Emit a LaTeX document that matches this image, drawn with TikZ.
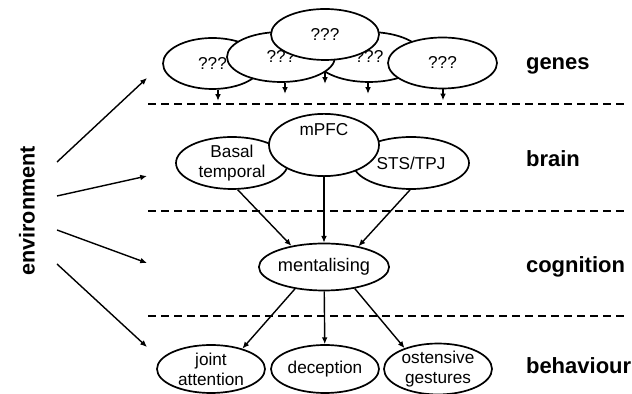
\documentclass[tikz,border=0pt]{standalone}
\usepackage{fontspec}
\setmainfont{Liberation Sans}
\usetikzlibrary{shapes.geometric,arrows.meta,backgrounds}
\begin{document}
\begin{tikzpicture}[x=0.5pt,y=-0.5pt,
  ell/.style={ellipse,draw,fill=white,line width=0.85pt,inner sep=0pt,
    font=\fontsize{8.6}{10}\selectfont,align=center},
  arr/.style={-{Latex[length=3.4pt,width=2.9pt]},line width=0.7pt},
  sep/.style={dash pattern=on 4pt off 2.5pt,line width=0.8pt},
  lev/.style={font=\fontsize{11}{13}\selectfont\bfseries,anchor=base west}]
\useasboundingbox (0,0) rectangle (632,394);

% genes
\node[ell,minimum width=49.5pt,minimum height=25.5pt] (g1) at (212.5,63.5) {???};
\node[ell,minimum width=54pt,minimum height=25pt] (g4) at (369,57) {???};
\node[ell,minimum width=54pt,minimum height=25pt] (g2) at (281,57) {???};
\node[ell,minimum width=54.5pt,minimum height=25.5pt] (g5) at (442.5,63) {???};
\node[ell,minimum width=54pt,minimum height=25.5pt] (g3) at (325,34.5) {???};
\begin{scope}[on background layer]
\draw[arr] ([xshift=2.75pt]g1.south) -- ++(0,11);
\draw[arr] ([xshift=2pt]g2.south) -- ++(0,11);
\draw[arr] (g3.south) -- ++(0,23);
\draw[arr] ([xshift=-0.5pt]g4.south) -- ++(0,11);
\draw[arr] ([xshift=0.25pt]g5.south) -- ++(0,11);
\end{scope}

% separators
\draw[sep] (148,104) -- (628,104);
\draw[sep] (148,211) -- (628,211);
\draw[sep] (148,316) -- (628,316);

% brain
\node[ell,minimum width=56pt,minimum height=26pt] (bt) at (232,163) {Basal\\temporal};
\node[ell,minimum width=58pt,minimum height=26pt] (sts) at (411,163) {STS/TPJ};
\node[ell,minimum width=55pt,minimum height=27pt] (mpfc) at (324,145) {mPFC\\[6pt]};

% cognition
\node[ell,minimum width=53.5pt,minimum height=23.5pt,font=\fontsize{9.1}{11}\selectfont] (ment) at (324,267) {mentalising};

% behaviour
\node[ell,minimum width=54pt,minimum height=24pt] (ja) at (211,369) {joint\\attention};
\node[ell,minimum width=54pt,minimum height=24pt] (dec) at (325,369) {deception};
\node[ell,minimum width=54pt,minimum height=24pt] (os) at (438,369) {ostensive\\gestures};

% brain -> cognition
\draw[arr] (bt.-78) -- (ment.147);
\draw[arr] (mpfc) -- (ment);
\draw[arr] (sts.-92) -- (ment.31);

% cognition -> behaviour
\draw[arr] (ment.-143) -- (ja.33);
\draw[arr] (ment) -- (dec);
\draw[arr] (ment.-35) -- (os.148);

% environment
\node[rotate=90,font=\fontsize{10.8}{13}\selectfont\bfseries] (env) at (27,211) {environment};
\coordinate (e1s) at (57,162); \coordinate (e1t) at (147,78);
\coordinate (e2s) at (57,196); \coordinate (e2t) at (147,176);
\coordinate (e3s) at (57,230); \coordinate (e3t) at (147,263);
\coordinate (e4s) at (57,264); \coordinate (e4t) at (147,347);
\draw[arr] (e1s) -- (e1t);
\draw[arr] (e2s) -- (e2t);
\draw[arr] (e3s) -- (e3t);
\draw[arr] (e4s) -- (e4t);

% level labels
\node[lev] (lgenes) at (519,70) {genes};
\node[lev] (lbrain) at (519,167) {brain};
\node[lev] (lcog) at (519,273) {cognition};
\node[lev] (lbeh) at (519,374) {behaviour};
\end{tikzpicture}
\end{document}
